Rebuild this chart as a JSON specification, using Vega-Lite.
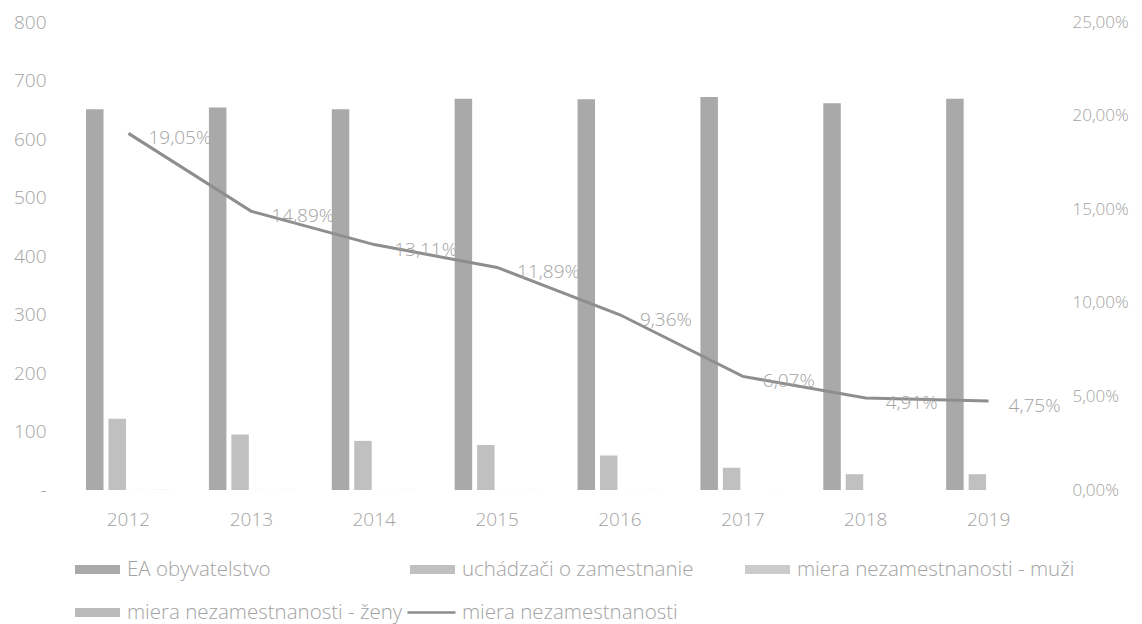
{
  "$schema": "https://vega.github.io/schema/vega-lite/v6.json",
  "width": 983,
  "height": 468,
  "autosize": {"type": "none"},
  "padding": {"left": 67, "top": 22, "right": 92, "bottom": 134},
  "background": "white",
  "config": {
    "locale": {"number": {"decimal": ",", "thousands": " ", "grouping": [3], "currency": ["", " €"]}},
    "view": {"stroke": null},
    "font": "Open Sans",
    "axis": {"labelFont": "Open Sans", "labelColor": "#a3a3a3", "labelFontSize": 19, "labelFontWeight": 300},
    "legend": {"labelFont": "Open Sans", "labelColor": "#a3a3a3", "labelFontSize": 20.5, "labelFontWeight": 300}
  },
  "datasets": {
    "bars": [
      {"rok": "2012", "rad": "EA obyvatelstvo", "hodnota": 651},
      {"rok": "2013", "rad": "EA obyvatelstvo", "hodnota": 654},
      {"rok": "2014", "rad": "EA obyvatelstvo", "hodnota": 651},
      {"rok": "2015", "rad": "EA obyvatelstvo", "hodnota": 669},
      {"rok": "2016", "rad": "EA obyvatelstvo", "hodnota": 668},
      {"rok": "2017", "rad": "EA obyvatelstvo", "hodnota": 672},
      {"rok": "2018", "rad": "EA obyvatelstvo", "hodnota": 661},
      {"rok": "2019", "rad": "EA obyvatelstvo", "hodnota": 669},
      {"rok": "2012", "rad": "uchádzači o zamestnanie", "hodnota": 122},
      {"rok": "2013", "rad": "uchádzači o zamestnanie", "hodnota": 95},
      {"rok": "2014", "rad": "uchádzači o zamestnanie", "hodnota": 84},
      {"rok": "2015", "rad": "uchádzači o zamestnanie", "hodnota": 77},
      {"rok": "2016", "rad": "uchádzači o zamestnanie", "hodnota": 59},
      {"rok": "2017", "rad": "uchádzači o zamestnanie", "hodnota": 38},
      {"rok": "2018", "rad": "uchádzači o zamestnanie", "hodnota": 27},
      {"rok": "2019", "rad": "uchádzači o zamestnanie", "hodnota": 27},
      {"rok": "2012", "rad": "miera nezamestnanosti - muži", "hodnota": 0.18},
      {"rok": "2013", "rad": "miera nezamestnanosti - muži", "hodnota": 0.14},
      {"rok": "2014", "rad": "miera nezamestnanosti - muži", "hodnota": 0.12},
      {"rok": "2015", "rad": "miera nezamestnanosti - muži", "hodnota": 0.11},
      {"rok": "2016", "rad": "miera nezamestnanosti - muži", "hodnota": 0.09},
      {"rok": "2017", "rad": "miera nezamestnanosti - muži", "hodnota": 0.06},
      {"rok": "2018", "rad": "miera nezamestnanosti - muži", "hodnota": 0.05},
      {"rok": "2019", "rad": "miera nezamestnanosti - muži", "hodnota": 0.04},
      {"rok": "2012", "rad": "miera nezamestnanosti - ženy", "hodnota": 0.2},
      {"rok": "2013", "rad": "miera nezamestnanosti - ženy", "hodnota": 0.16},
      {"rok": "2014", "rad": "miera nezamestnanosti - ženy", "hodnota": 0.14},
      {"rok": "2015", "rad": "miera nezamestnanosti - ženy", "hodnota": 0.13},
      {"rok": "2016", "rad": "miera nezamestnanosti - ženy", "hodnota": 0.1},
      {"rok": "2017", "rad": "miera nezamestnanosti - ženy", "hodnota": 0.07},
      {"rok": "2018", "rad": "miera nezamestnanosti - ženy", "hodnota": 0.05},
      {"rok": "2019", "rad": "miera nezamestnanosti - ženy", "hodnota": 0.05}
    ],
    "miera": [
      {"rok": "2012", "miera": 0.1905},
      {"rok": "2013", "miera": 0.1489},
      {"rok": "2014", "miera": 0.1311},
      {"rok": "2015", "miera": 0.1189},
      {"rok": "2016", "miera": 0.0936},
      {"rok": "2017", "miera": 0.0607},
      {"rok": "2018", "miera": 0.0491},
      {"rok": "2019", "miera": 0.0475}
    ]
  },
  "encoding": {
    "x": {
      "field": "rok",
      "type": "nominal",
      "scale": {"paddingInner": 0.31, "paddingOuter": 0.155},
      "axis": {"title": null, "labelAngle": 0, "domain": false, "ticks": false, "labelPadding": 20}
    }
  },
  "layer": [
    {
      "data": {"name": "bars"},
      "mark": {"type": "bar"},
      "encoding": {
        "xOffset": {
          "field": "rad",
          "type": "nominal",
          "scale": {
            "domain": ["EA obyvatelstvo", "uchádzači o zamestnanie", "miera nezamestnanosti - muži", "miera nezamestnanosti - ženy"],
            "paddingInner": 0.22,
            "paddingOuter": 0
          }
        },
        "y": {
          "field": "hodnota",
          "type": "quantitative",
          "scale": {"domain": [0, 800], "nice": false},
          "axis": {
            "title": null,
            "orient": "left",
            "values": [0, 100, 200, 300, 400, 500, 600, 700, 800],
            "domain": false,
            "ticks": false,
            "grid": false,
            "labelPadding": 21,
            "labelExpr": "datum.value === 0 ? '-' : datum.label"
          }
        },
        "color": {
          "field": "rad",
          "type": "nominal",
          "scale": {
            "domain": ["EA obyvatelstvo", "uchádzači o zamestnanie", "miera nezamestnanosti - muži", "miera nezamestnanosti - ženy"],
            "range": ["#a9a9a9", "#c0c0c0", "#cbcbcb", "#bababa"]
          },
          "legend": {
            "title": null,
            "orient": "none",
            "legendX": 8,
            "legendY": 525,
            "direction": "horizontal",
            "columns": 3,
            "gridAlign": "all",
            "columnPadding": 5,
            "rowPadding": 10,
            "symbolSize": 2025,
            "symbolType": "M-1,-0.2H1V0.2H-1Z",
            "symbolStrokeWidth": 0,
            "labelOffset": 7,
            "labelLimit": 400
          }
        }
      }
    },
    {
      "data": {"name": "miera"},
      "encoding": {
        "y": {
          "field": "miera",
          "type": "quantitative",
          "scale": {"domain": [0, 0.25], "nice": false},
          "axis": {
            "title": null,
            "orient": "right",
            "values": [0, 0.05, 0.1, 0.15, 0.2, 0.25],
            "domain": false,
            "ticks": false,
            "grid": false,
            "labelPadding": 22,
            "labelFontSize": 17,
            "labelExpr": "replace(format(datum.value, '.2%'), '.', ',')"
          }
        }
      },
      "layer": [
        {
          "mark": {"type": "line", "strokeWidth": 3},
          "encoding": {
            "stroke": {
              "datum": "miera nezamestnanosti",
              "scale": {"domain": ["miera nezamestnanosti"], "range": ["#8e8e8e"]},
              "legend": {
                "title": null,
                "orient": "none",
                "legendX": 339,
                "legendY": 565,
                "symbolType": "stroke",
                "symbolSize": 2304,
                "symbolStrokeWidth": 2.5,
                "labelOffset": 5,
                "labelLimit": 400
              }
            }
          }
        },
        {
          "mark": {"type": "text", "align": "left", "baseline": "middle", "dx": 20, "dy": 5, "fontSize": 19, "fontWeight": 300, "color": "#a3a3a3", "font": "Open Sans"},
          "encoding": {
            "text": {"field": "miera", "type": "quantitative", "format": ".2%"}
          }
        }
      ]
    }
  ],
  "resolve": {"scale": {"y": "independent"}}
}
